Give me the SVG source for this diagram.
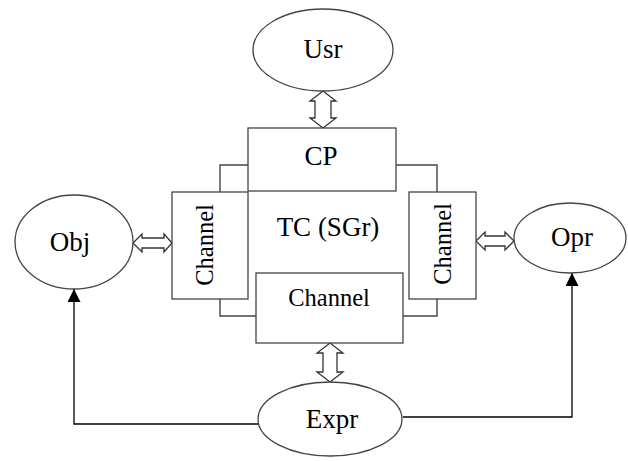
<svg xmlns="http://www.w3.org/2000/svg" width="628" height="461" viewBox="0 0 628 461">
<style>
.s{fill:#fff;stroke:#444;stroke-width:1.3}
.c{fill:none;stroke:#444;stroke-width:1.4}
.d{fill:#fff;stroke:#333;stroke-width:1.3}
.t{font-family:"Liberation Serif","Times New Roman",serif;font-size:27px;fill:#000;text-anchor:middle}
.ch{font-size:24.5px}
.ln{fill:none;stroke:#000;stroke-width:1.3}
</style>
<defs>
<marker id="ah" viewBox="0 0 10 10" refX="10" refY="5" markerWidth="14" markerHeight="13" markerUnits="userSpaceOnUse" orient="auto"><path d="M0,0 L10,5 L0,10 Z" fill="#000"/></marker>
</defs>
<rect width="628" height="461" fill="#fff"/>
<g id="connectors">
<polyline class="c" points="248,165 220,165 220,192"/>
<polyline class="c" points="396,165 437,165 437,192"/>
<polyline class="c" points="220,299 220,316 256,316"/>
<polyline class="c" points="403,316 437,316 437,299"/>
<polygon class="d" points="323,91 336,101 331,101 331,118 336,118 323,128 310,118 315,118 315,101 310,101"/>
<polygon class="d" points="330,343 343,353 337,353 337,372 343,372 330,382 317,372 323,372 323,353 317,353"/>
<polygon class="d" points="133,243 142,234 142,238 164,238 164,234 172,243 164,252 164,248 142,248 142,252"/>
<polygon class="d" points="476,241 485,232 485,236 505,236 505,232 514,241 505,250 505,246 485,246 485,250"/>
<polyline class="ln" points="258,424 74,424 74,289" marker-end="url(#ah)"/>
<polyline class="ln" points="403,417 572,417 572,273" marker-end="url(#ah)"/>
</g>
<g id="usr"><ellipse class="s" cx="323" cy="50" rx="70" ry="41"/><text class="t" x="323" y="58">Usr</text></g>
<g id="cp"><rect class="s" x="248" y="128" width="148" height="63"/><text class="t" x="321" y="165">CP</text></g>
<g id="tc"><text class="t" x="328" y="236">TC (SGr)</text></g>
<g id="channel-left"><rect class="s" x="172" y="192" width="76" height="107"/><text class="t ch" transform="translate(213,245) rotate(-90)">Channel</text></g>
<g id="channel-right"><rect class="s" x="409" y="192" width="67" height="107"/><text class="t ch" transform="translate(451,244) rotate(-90)">Channel</text></g>
<g id="channel-bottom"><rect class="s" x="256" y="273" width="147" height="70"/><text class="t ch" x="329" y="306">Channel</text></g>
<g id="obj"><ellipse class="s" cx="74" cy="242" rx="59" ry="47"/><text class="t" x="70" y="251">Obj</text></g>
<g id="opr"><ellipse class="s" cx="570" cy="238" rx="56" ry="35"/><text class="t" x="572" y="246">Opr</text></g>
<g id="expr"><ellipse class="s" cx="330" cy="419" rx="72" ry="37"/><text class="t" x="332" y="428">Expr</text></g>
</svg>
